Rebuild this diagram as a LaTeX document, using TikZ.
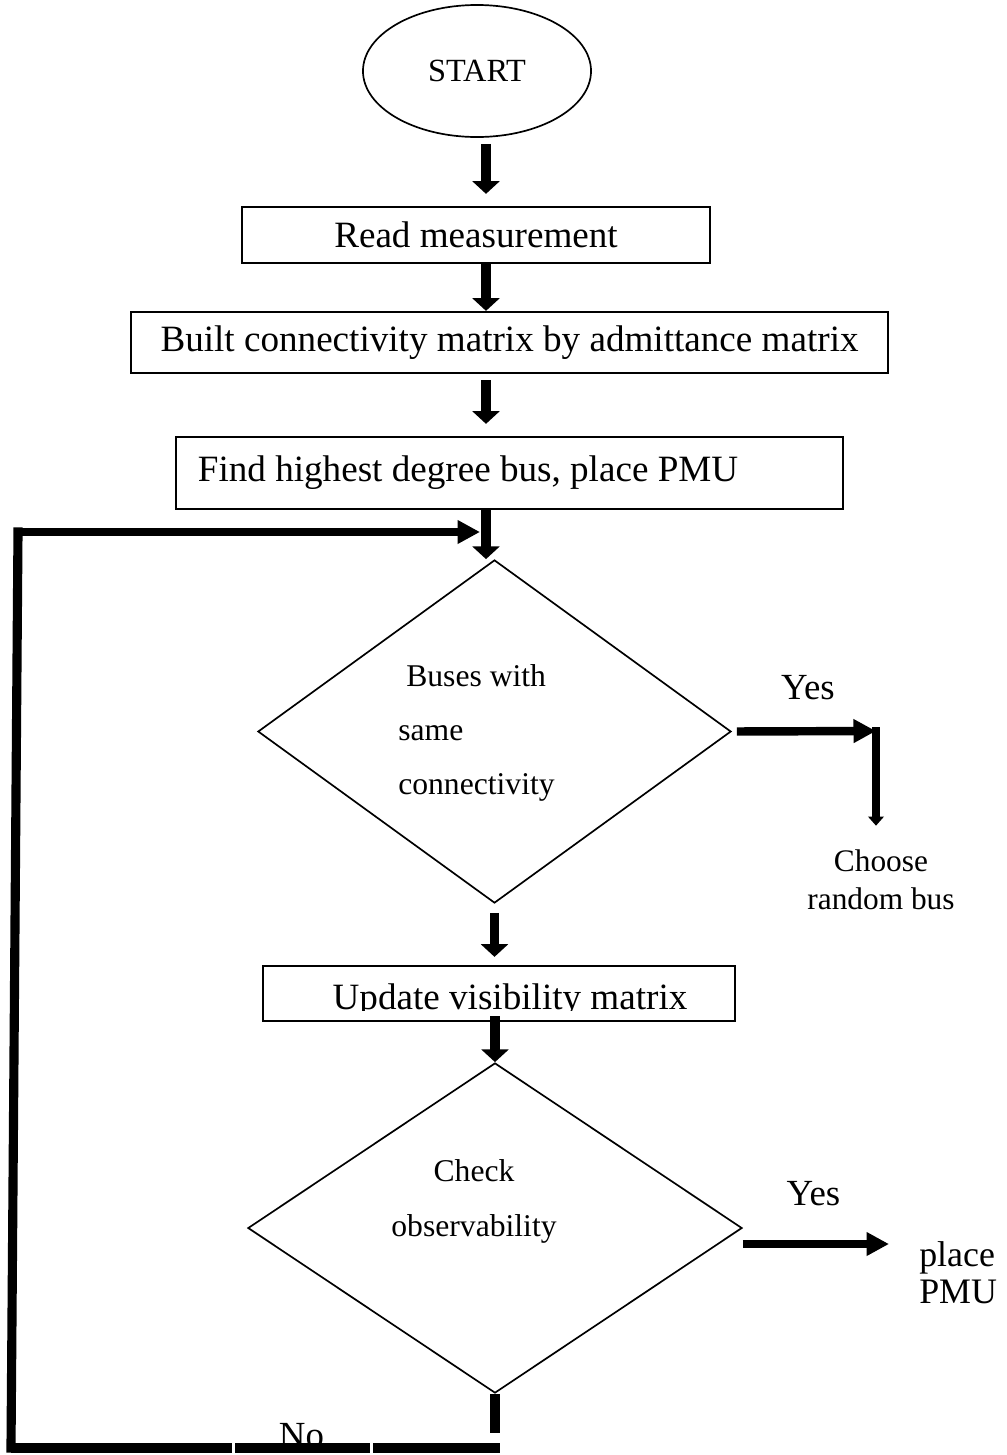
\documentclass[tikz,border=0pt]{standalone}
\usepackage{fontspec}
\setmainfont{Liberation Serif}
\usetikzlibrary{shapes.geometric, arrows.meta}

\begin{document}
\begin{tikzpicture}[x=0.025cm, y=-0.025cm,
    terminal/.style={ellipse, draw, line width=1.2pt, minimum width=5.7cm, minimum height=3.3cm, inner sep=0pt, font=\fontsize{23}{27}\selectfont},
    process/.style={rectangle, draw, line width=1.6pt, inner sep=0pt, font=\fontsize{26.4}{30}\selectfont},
    decision/.style={diamond, draw, line width=1.2pt, inner sep=0pt},
    dtext/.style={inner sep=0pt, font=\fontsize{22.5}{38.6}\selectfont},
    lbl/.style={inner sep=0pt, font=\fontsize{26.2}{30}\selectfont},
    flow/.style={line width=6.5pt, -{Triangle[length=9pt, width=19pt]}},
    flowh/.style={line width=6pt, -{Triangle[length=16pt, width=16pt]}},
    flowsmall/.style={line width=6pt, -{Triangle[length=6.5pt, width=11pt]}},
    backline/.style={line width=6.5pt}
]
\useasboundingbox (0,0) rectangle (1007,1455);

% Terminal and process boxes
\node[terminal] (start) at (477,71) {START};
\node[process, minimum width=11.7cm, minimum height=1.4cm] (read) at (476,235) {Read measurement};
\node[process, minimum width=18.925cm, minimum height=1.525cm] (built) at (509.5,342.5) {Built connectivity matrix by admittance matrix};
\node[process, minimum width=16.675cm, minimum height=1.8cm, inner xsep=0.55cm] (find) at (509.5,473) {\makebox[15.575cm][l]{Find highest degree bus, place PMU}};
\node[process, minimum width=11.8cm, minimum height=1.375cm, path picture={
    \clip ([yshift=0.275cm]path picture bounding box.south west) rectangle (path picture bounding box.north east);
    \node[anchor=base, inner sep=0pt, font=\fontsize{26.4}{30}\selectfont] at ([xshift=0.275cm, yshift=-0.41cm]path picture bounding box.center) {Update visibility matrix};
  }] (upd) at (499,993.5) {};

% Decisions
\node[decision, minimum width=11.825cm, minimum height=8.575cm] (d1) at (494.5,731.5) {};
\node[dtext, anchor=west, align=left] (d1txt) at (398,733) {\hspace*{0.2cm}Buses with\\same\\connectivity};
\node[decision, minimum width=12.35cm, minimum height=8.25cm] (d2) at (495,1228) {};
\node[dtext, align=center] (d2txt) at (474,1201.5) {Check\\observability};

% Outcomes and labels
\node[inner sep=0pt, align=center, font=\fontsize{22.3}{27}\selectfont] (choose) at (881,880) {Choose\\random bus};
\node[inner sep=0pt, anchor=west, align=left, font=\fontsize{25.5}{26}\selectfont] (place) at (919,1272.5) {place\\PMU};
\node[lbl, anchor=base] (yes1) at (808,699) {Yes};
\node[lbl, anchor=base] (yes2) at (813.5,1205) {Yes};
\node[lbl, anchor=base] (no) at (301.5,1447) {No};

% Helper points
\coordinate (spine) at (486,0);
\coordinate (yescorner) at (876,731);
\coordinate (nostub) at (495,1433);
\coordinate (looptl) at (18,532);
\coordinate (loopbl) at (11,1448);
\coordinate (b1) at (232,1448);
\coordinate (b2) at (235,1448);
\coordinate (b3) at (370,1448);
\coordinate (b4) at (373,1448);
\coordinate (noend) at (500,1448);

% Main flow
\draw[flow, shorten <=0.15cm, shorten >=0.3cm] (start.south -| spine) -- (read.north -| spine);
\draw[flow] (read.south -| spine) -- (built.north -| spine);
\draw[flow, shorten <=0.15cm, shorten >=0.3cm] (built.south -| spine) -- (find.north -| spine);
\draw[flow] (find.south -| spine) -- (d1.north -| spine);
\draw[flow, shorten <=0.225cm, shorten >=0.2cm] (d1.south) -- (d1.south |- upd.north);
\draw[flow, shorten <=-0.15cm] (upd.south -| d2.north) -- (d2.north);

% Yes branches
\draw[flowh, shorten <=0.125cm] (d1.east) -- (yescorner);
\draw[flowsmall, line cap=rect, shorten >=0.6cm] (yescorner) -- (yescorner |- choose.north);
\draw[flowh, shorten >=0.75cm] ([yshift=-0.4cm]d2.east) -- ([yshift=-0.4cm]d2.east -| place.west);

% No branch back to the top
\draw[backline] (d2.south) -- (nostub);
\draw[backline] (loopbl) -- (b1);
\draw[backline] (b2) -- (b3);
\draw[backline] (b4) -- (noend);
\draw[backline, line cap=rect] (loopbl) -- (looptl);
\draw[flowh, shorten >=0.15cm] (looptl) -- (looptl -| spine);
\end{tikzpicture}
\end{document}
